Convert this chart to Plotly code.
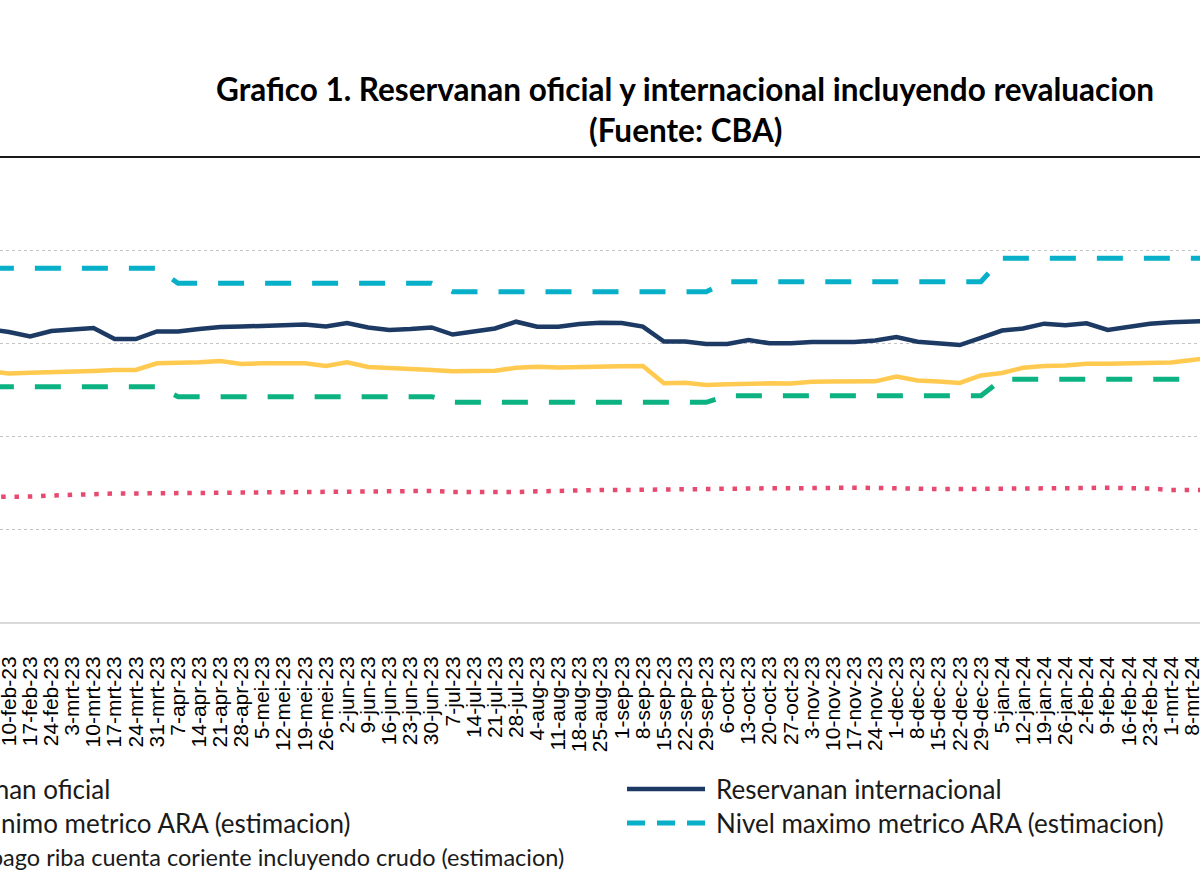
import plotly.graph_objects as go

# ---------------- data ----------------
dates = ["3-feb-23", "10-feb-23", "17-feb-23", "24-feb-23", "3-mrt-23", "10-mrt-23", "17-mrt-23",
         "24-mrt-23", "31-mrt-23", "7-apr-23", "14-apr-23", "21-apr-23", "28-apr-23", "5-mei-23",
         "12-mei-23", "19-mei-23", "26-mei-23", "2-jun-23", "9-jun-23", "16-jun-23", "23-jun-23",
         "30-jun-23", "7-jul-23", "14-jul-23", "21-jul-23", "28-jul-23", "4-aug-23", "11-aug-23",
         "18-aug-23", "25-aug-23", "1-sep-23", "8-sep-23", "15-sep-23", "22-sep-23", "29-sep-23",
         "6-oct-23", "13-oct-23", "20-oct-23", "27-oct-23", "3-nov-23", "10-nov-23", "17-nov-23",
         "24-nov-23", "1-dec-23", "8-dec-23", "15-dec-23", "22-dec-23", "29-dec-23", "5-jan-24",
         "12-jan-24", "19-jan-24", "26-jan-24", "2-feb-24", "9-feb-24", "16-feb-24", "23-feb-24",
         "1-mrt-24", "8-mrt-24", "15-mrt-24"]

reserva_internacional = [3151, 3118, 3070, 3129, 3145, 3161, 3043, 3043, 3124, 3124, 3151, 3172, 3177,
                         3183, 3194, 3199, 3177, 3215, 3167, 3140, 3151, 3167, 3091, 3129, 3156, 3229,
                         3175, 3175, 3204, 3218, 3215, 3177, 3016, 3016, 2989, 2989, 3032, 2997, 2997,
                         3011, 3011, 3011, 3027, 3065, 3014, 2997, 2978, 3054, 3134, 3156, 3208, 3190,
                         3212, 3140, 3180, 3208, 3224, 3231, 3237]

reserva_oficial = [2699, 2672, 2681, 2685, 2685, 2699, 2710, 2710, 2782, 2782, 2792, 2806, 2774, 2782,
                   2782, 2782, 2753, 2792, 2742, 2731, 2731, 2710, 2696, 2696, 2701, 2734, 2745, 2737,
                   2745, 2749, 2749, 2753, 2567, 2573, 2548, 2556, 2567, 2567, 2565, 2584, 2586, 2586,
                   2588, 2640, 2597, 2586, 2570, 2651, 2677, 2734, 2753, 2758, 2776, 2776, 2778, 2785,
                   2790, 2817, 2849]

ara_maximo = [3803, 3803, 3803, 3803, 3803, 3803, 3803, 3803, 3803,
              3642, 3642, 3642, 3642, 3642, 3642, 3642, 3642, 3642, 3642, 3642, 3642, 3642,
              3552, 3552, 3552, 3552, 3552, 3552, 3552, 3552, 3552, 3552, 3552, 3552, 3552,
              3659, 3659, 3659, 3659, 3659, 3659, 3659, 3659, 3659, 3659, 3659, 3659, 3659,
              3911, 3911, 3911, 3911, 3911, 3911, 3911, 3911, 3911, 3911, 3911]

ara_minimo = [2530, 2530, 2530, 2530, 2530, 2530, 2530, 2530, 2530,
              2423, 2423, 2423, 2423, 2423, 2423, 2423, 2423, 2423, 2423, 2423, 2423, 2423,
              2362, 2362, 2362, 2362, 2362, 2362, 2362, 2362, 2362, 2362, 2362, 2362, 2362,
              2433, 2433, 2433, 2433, 2433, 2433, 2433, 2433, 2433, 2433, 2433, 2433, 2433,
              2610, 2610, 2610, 2610, 2610, 2610, 2610, 2610, 2610, 2610, 2610]

pago_cuenta_coriente = [1344, 1344, 1349, 1360, 1371, 1376, 1382, 1382, 1384, 1385, 1387, 1387, 1390,
                        1392, 1398, 1401, 1403, 1409, 1411, 1413, 1414, 1409, 1398, 1395, 1395, 1398,
                        1405, 1412, 1416, 1419, 1419, 1423, 1427, 1430, 1430, 1432, 1435, 1438, 1438,
                        1444, 1444, 1444, 1441, 1435, 1430, 1430, 1430, 1430, 1430, 1430, 1430, 1430,
                        1441, 1444, 1444, 1435, 1419, 1419, 1419]

y_gridvals = [1000, 2000, 3000, 4000]

names = {
    "oficial": "Reservanan oficial",
    "internacional": "Reservanan internacional",
    "minimo": "Nivel minimo metrico ARA (estimacion)",
    "maximo": "Nivel maximo metrico ARA (estimacion)",
    "pago": "3 luna di pago riba cuenta coriente incluyendo crudo (estimacion)",
}

# ---------------- styles ----------------
C_NAVY = "#1c3a63"
C_YELLOW = "#ffca4f"
C_CYAN = "#07b0c8"
C_GREEN = "#0db282"
C_PINK = "#e8496f"
DASH = "26px,21px"
DOTS = "4.5px,8.8px"

W, H = 1200, 892
PLOT_TOP, PLOT_BOTTOM = 157, 622


def px_x(p):
    return p / W


def px_y(p):
    return (PLOT_BOTTOM - p) / (PLOT_BOTTOM - PLOT_TOP)


fig = go.Figure()
fig.add_trace(go.Scatter(x=dates, y=pago_cuenta_coriente, mode="lines", name=names["pago"],
                         line=dict(color=C_PINK, width=4.5, dash=DOTS)))
fig.add_trace(go.Scatter(x=dates, y=ara_minimo, mode="lines", name=names["minimo"],
                         line=dict(color=C_GREEN, width=5, dash=DASH)))
fig.add_trace(go.Scatter(x=dates, y=ara_maximo, mode="lines", name=names["maximo"],
                         line=dict(color=C_CYAN, width=5, dash=DASH)))
fig.add_trace(go.Scatter(x=dates, y=reserva_oficial, mode="lines", name=names["oficial"],
                         line=dict(color=C_YELLOW, width=4.5)))
fig.add_trace(go.Scatter(x=dates, y=reserva_internacional, mode="lines", name=names["internacional"],
                         line=dict(color=C_NAVY, width=4.5)))

fig.update_layout(
    width=W, height=H,
    margin=dict(l=0, r=0, t=PLOT_TOP, b=H - PLOT_BOTTOM, pad=0),
    paper_bgcolor="white", plot_bgcolor="white",
    showlegend=False,
    font=dict(family="Liberation Sans, Arial, sans-serif", color="#000000"),
)

fig.update_xaxes(
    type="category",
    range=[0.574, 57.37],
    tickmode="array", tickvals=dates, ticktext=dates,
    tickangle=-90,
    tickfont=dict(family="Liberation Sans, Arial, sans-serif", size=21, color="#000000"),
    ticklabelstandoff=24,
    showgrid=False,
    showline=True, linecolor="#d9d9d9", linewidth=2,
    ticks="",
    zeroline=False,
    automargin=False,
)
fig.update_yaxes(
    range=[0, 5000],
    tickvals=y_gridvals,
    showticklabels=False,
    showgrid=True, gridcolor="#c4c4c4", gridwidth=1, griddash="3px,3px",
    zeroline=False,
    showline=False,
    automargin=False,
)

# top border line
fig.add_shape(type="line", xref="paper", yref="paper", x0=0, x1=1, y0=1, y1=1,
              line=dict(color="#1a1a1a", width=2))

# title
TITLE_FONT = dict(family="Lato, Calibri, sans-serif", size=31.5, color="#000000")
fig.add_annotation(text="<b>Grafico 1. Reservanan oficial y internacional incluyendo revaluacion</b>",
                   xref="paper", yref="paper", x=px_x(685), y=px_y(89), showarrow=False,
                   xanchor="center", yanchor="middle", font=TITLE_FONT)
fig.add_annotation(text="<b>(Fuente: CBA)</b>",
                   xref="paper", yref="paper", x=px_x(685), y=px_y(130), showarrow=False,
                   xanchor="center", yanchor="middle", font=TITLE_FONT)

# legend (left column partly outside the picture, as in the reference)
rows = [789, 823, 857]
left_items = [(names["oficial"], 112, 26), (names["minimo"], 353, 26), (names["pago"], 566, 23.5)]
for (txt, xend, fs), ry in zip(left_items, rows):
    fig.add_annotation(text=txt, xref="paper", yref="paper", x=px_x(xend), y=px_y(ry),
                       showarrow=False, xanchor="right", yanchor="middle",
                       font=dict(family="Lato, Calibri, sans-serif", size=fs, color="#1a1a1a"))

right_items = [(names["internacional"], C_NAVY, "solid", 4.5),
               (names["maximo"], C_CYAN, "18px,12px", 5)]
for (txt, col, dsh, lw), ry in zip(right_items, rows):
    fig.add_shape(type="line", xref="paper", yref="paper", x0=px_x(627), x1=px_x(705),
                  y0=px_y(ry), y1=px_y(ry), line=dict(color=col, width=lw, dash=dsh))
    fig.add_annotation(text=txt, xref="paper", yref="paper", x=px_x(714), y=px_y(ry),
                       showarrow=False, xanchor="left", yanchor="middle",
                       font=dict(family="Lato, Calibri, sans-serif", size=26, color="#1a1a1a"))

fig.write_html("out.html", config={"displayModeBar": False},
               post_script="document.body.style.margin='0px';")
